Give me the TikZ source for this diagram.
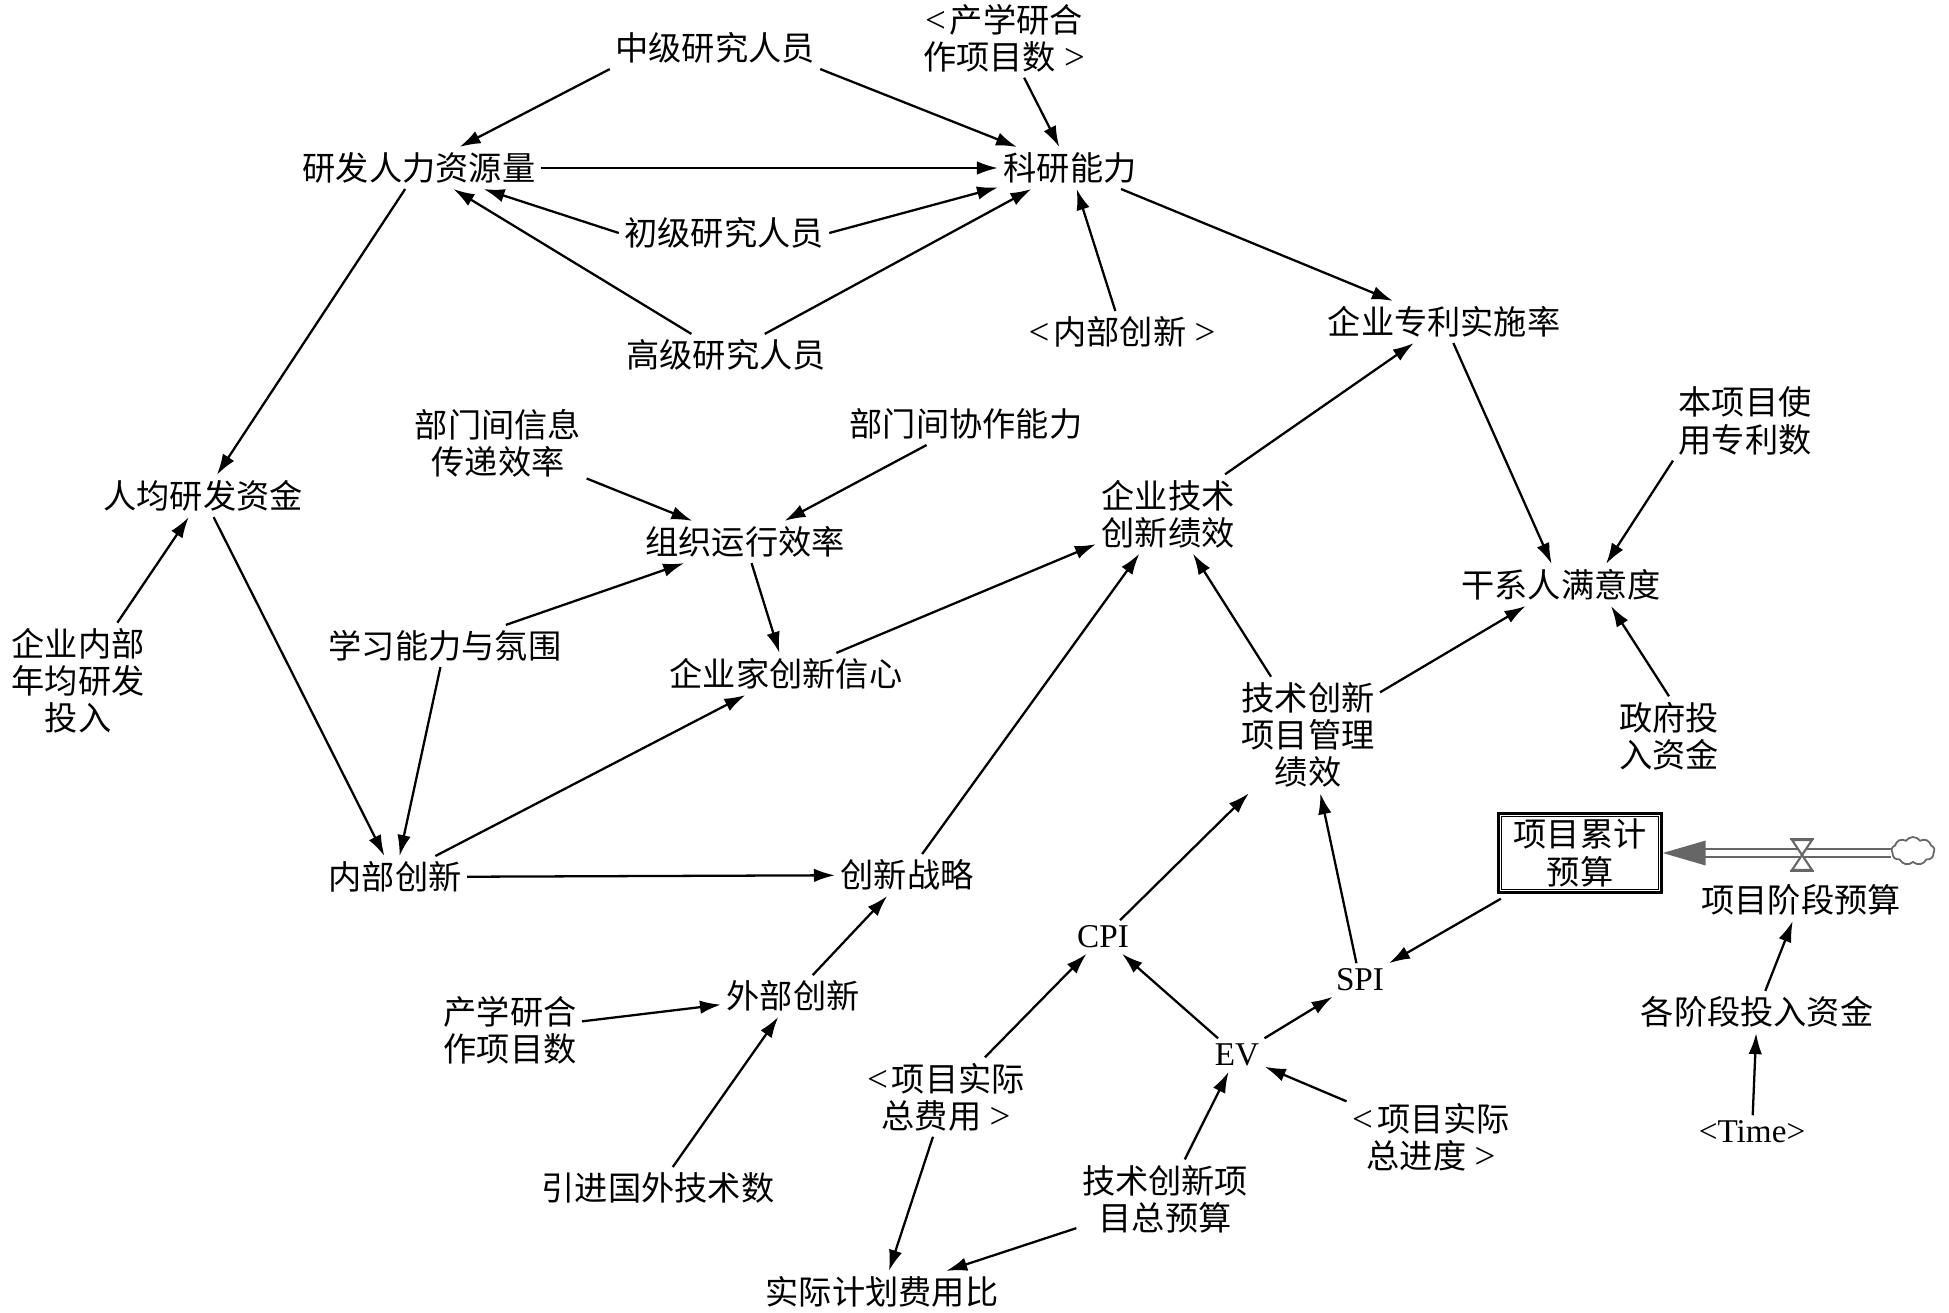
\documentclass[tikz,border=0pt]{standalone}
\usepackage{fontspec}
\setmainfont{Noto Sans CJK SC}
\newfontfamily\lat{Liberation Serif}
\usetikzlibrary{arrows.meta,calc,shapes.symbols}
\newcommand\fsz{\fontsize{18.9pt}{21.2pt}\selectfont}
\newcommand\ltb{{\lat\fontsize{21pt}{21.2pt}\selectfont<}\hspace{0.12em}}
\newcommand\gtb{\hspace{0.25em}{\lat\fontsize{21pt}{21.2pt}\selectfont>}}
\begin{document}
\begin{tikzpicture}[x=0.02cm,y=-0.02cm,
  lbl/.style={inner sep=3pt,align=center,font=\fsz},
  latn/.style={inner sep=3pt,align=center,font=\lat\fsz},
  stock/.style={draw,line width=1.4pt,align=center,font=\fsz,minimum width=3.26cm,minimum height=1.58cm,inner sep=2pt},
  arr/.style={-{Latex[length=0.42cm,width=0.27cm]},line width=1.3pt},
  flowc/.style={draw=black!60}]
\useasboundingbox (0,0) rectangle (1949,1312);
% nodes
\node[lbl] (zj) at (715,48) {中级研究人员};
\node[lbl] (cxy) at (1004,38) {\ltb 产学研合\\作项目数\gtb};
\node[lbl] (yf) at (419,168) {研发人力资源量};
\node[lbl] (ky) at (1070,168) {科研能力};
\node[lbl] (cj) at (724,233) {初级研究人员};
\node[lbl] (gj) at (726,355) {高级研究人员};
\node[lbl] (nbt) at (1122,332) {\ltb 内部创新\gtb};
\node[lbl] (zl) at (1444,322) {企业专利实施率};
\node[lbl] (bmx) at (498,443) {部门间信息\\传递效率};
\node[lbl] (bmxz) at (966,424) {部门间协作能力};
\node[lbl] (rj) at (203,496) {人均研发资金};
\node[lbl] (zz) at (745,542) {组织运行效率};
\node[lbl] (jsjx) at (1168,514) {企业技术\\创新绩效};
\node[lbl] (bxm) at (1745,421) {本项目使\\用专利数};
\node[lbl] (gx) at (1561,585) {干系人满意度};
\node[lbl] (qn) at (78,681) {企业内部\\年均研发\\投入};
\node[lbl] (xx) at (445,646) {学习能力与氛围};
\node[lbl] (qyj) at (786,674) {企业家创新信心};
\node[lbl] (gljx) at (1308,735) {技术创新\\项目管理\\绩效};
\node[lbl] (zf) at (1669,736) {政府投\\入资金};
\node[lbl] (nb) at (395,877) {内部创新};
\node[lbl] (cl) at (907,875) {创新战略};
\node[stock] (box) at (1580,853) {项目累计\\预算};
\node[lbl] (jd) at (1801,900) {项目阶段预算};
\node[latn] (cpi) at (1103,937) {CPI};
\node[latn] (spi) at (1360,980) {SPI};
\node[lbl] (wb) at (793,996) {外部创新};
\node[lbl] (cxy2) at (510,1030) {产学研合\\作项目数};
\node[lbl] (gjd) at (1757,1012) {各阶段投入资金};
\node[lbl] (sjfy) at (946,1097) {\ltb 项目实际\\总费用\gtb};
\node[latn] (ev) at (1237,1055) {EV};
\node[lbl] (sjjd) at (1431,1137) {\ltb 项目实际\\总进度\gtb};
\node[latn] (tm) at (1752,1132) {<Time>};
\node[lbl] (yj) at (658,1188) {引进国外技术数};
\node[lbl] (zys) at (1165,1199) {技术创新项\\目总预算};
\node[lbl] (sjjh) at (882,1292) {实际计划费用比};
% inner line of stock box
\draw[line width=0.5pt] ($(box.south west)+(4,-4)$) rectangle ($(box.north east)+(-4,4)$);
% flow
\node[cloud,flowc,line width=1pt,cloud puffs=9,cloud puff arc=110,minimum width=0.86cm,minimum height=0.56cm,inner sep=0pt,aspect=1.6] (cld) at (1913,851) {};
\coordinate (valve) at (1802,855);
\draw[black!60,line width=0.04cm,double=white,double distance=0.12cm] (cld.west |- box.east) -- ($(box.east)+(40,0)$);
\fill[black!60] (box.east) -- ++(43,-12.5) -- ++(0,25) -- cycle;
\draw[black!60,line width=1.2pt,fill=white] ($(valve)+(-10,-15)$) -- ($(valve)+(10,-15)$) -- (valve) -- cycle;
\draw[black!60,line width=1.2pt,fill=white] ($(valve)+(-10,15)$) -- ($(valve)+(10,15)$) -- (valve) -- cycle;
\draw[black!60,line width=1.2pt] ($(valve)+(-12,-16)$) -- ($(valve)+(12,-16)$);
\draw[black!60,line width=1.2pt] ($(valve)+(-12,16)$) -- ($(valve)+(12,16)$);
% edges
\draw[arr] (zj.south west) -- (yf);
\draw[arr] (zj.south east) -- (ky);
\draw[arr] (cxy) -- (ky);
\draw[arr] (yf) -- (ky);
\draw[arr] (cj.west) -- (yf);
\draw[arr] (cj.east) -- (ky);
\draw[arr] (gj) -- (yf);
\draw[arr] (gj) -- (ky);
\draw[arr] (nbt) -- (ky);
\draw[arr] (ky) -- (zl);
\draw[arr] (yf) -- (rj);
\draw[arr] (qn) -- (rj);
\draw[arr] (rj) -- (nb);
\draw[arr] (bmx) -- (zz);
\draw[arr] (bmxz) -- (zz);
\draw[arr] (xx) -- (zz);
\draw[arr] (xx) -- (nb);
\draw[arr] (zz) -- (qyj);
\draw[arr] (qyj) -- (jsjx);
\draw[arr] (nb) -- (qyj);
\draw[arr] (nb) -- (cl);
\draw[arr] (jsjx) -- (zl);
\draw[arr] (zl) -- (gx);
\draw[arr] (bxm.south west) -- ($(gx.north)+(45,0)$);
\draw[arr] (gljx) -- ($(jsjx.south)+(25,0)$);
\draw[arr] (gljx) -- (gx);
\draw[arr] (zf.north) -- ($(gx.south)+(50,0)$);
\draw[arr] (cl) -- (jsjx);
\draw[arr] (wb) -- (cl);
\draw[arr] (cxy2) -- (wb);
\draw[arr] (yj) -- (wb);
\draw[arr] (cpi) -- (gljx);
\draw[arr] (spi) -- (gljx);
\draw[arr,shorten <=0.2cm] (box) -- (spi);
\draw[arr] (ev) -- (cpi);
\draw[arr] (ev) -- (spi);
\draw[arr] (sjfy) -- (cpi);
\draw[arr] (sjjd) -- (ev);
\draw[arr] (zys) -- (ev);
\draw[arr] (sjfy) -- (sjjh);
\draw[arr] (zys) -- (sjjh);
\draw[arr] (gjd) -- (jd);
\draw[arr] (tm) -- (gjd);
\end{tikzpicture}
\end{document}
